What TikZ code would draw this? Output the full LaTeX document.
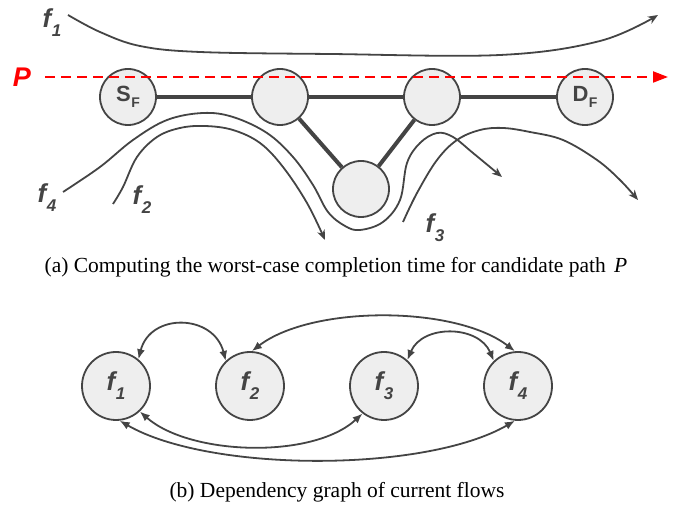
\documentclass[tikz,border=0pt]{standalone}
\usepackage{fontspec}
\setmainfont{Liberation Serif}
\setsansfont{Liberation Sans}
\usetikzlibrary{arrows.meta,backgrounds}
\definecolor{dg}{HTML}{444444}
\definecolor{lg}{HTML}{EEEEEE}
\newcommand{\flab}[1]{{\sffamily\bfseries\itshape\fontsize{26}{26}\selectfont f\kern0.5pt\raisebox{-9pt}{\fontsize{17}{17}\selectfont #1}}}
\newcommand{\nlab}[2]{{\sffamily\bfseries\fontsize{22}{22}\selectfont #1\kern0.5pt\raisebox{-6pt}{\fontsize{14}{14}\selectfont #2}}}
\begin{document}
\begin{tikzpicture}[x=1pt,y=1pt,
  router/.style={circle,draw=dg,fill=lg,line width=1.8pt,minimum size=56pt,inner sep=0pt,text=dg},
  flownode/.style={circle,draw=dg,fill=lg,line width=1.8pt,minimum size=68pt,inner sep=0pt,text=dg},
  link/.style={draw=dg,line width=4pt},
  flow/.style={draw=dg,line width=1.8pt,-{Stealth[length=10pt,width=8pt,inset=3pt]}},
  dep/.style={draw=dg,line width=1.8pt,{Latex[length=10pt,width=8pt]}-{Latex[length=10pt,width=8pt]}},
  lab/.style={text=dg,inner sep=0pt},
  captext/.style={inner sep=0pt,font=\fontsize{21.5}{21.5}\selectfont}]
\useasboundingbox (0,0) rectangle (691,508);
% ---------- (a) ----------
\coordinate (Pstart) at (45,431);
\coordinate (Pend) at (668,431);
\node[router] (S) at (128,411) {\nlab{S}{F}};
\node[router] (N2) at (280,411) {};
\node[router] (N3) at (432,411) {};
\node[router] (D) at (585,411) {\nlab{D}{F}};
\node[router] (B) at (361,319) {};
\begin{scope}[on background layer]
\draw[link] (S) -- (N2);
\draw[link] (N2) -- (N3);
\draw[link] (N3) -- (D);
\draw[link] (N2) -- (B);
\draw[link] (N3) -- (B);
\end{scope}
% P dashed path
\draw[red,line width=2pt,dash pattern=on 10pt off 6pt,-{Triangle[length=15pt,width=11pt]}] (Pstart) -- (Pend);
\node[inner sep=0pt,text=red] (Plab) at (22,431) {\sffamily\bfseries\itshape\fontsize{27}{27}\selectfont P};
% flows
\draw[flow] plot[smooth,tension=0.6] coordinates {(68,493) (100,476) (140,462) (200,456) (330,454) (500,453) (600,467) (658,493)};
\draw[flow] plot[smooth,tension=0.6] coordinates {(63,316) (100,341) (133,368) (167,388) (203,395) (233,391) (267,375) (293,351) (313,323) (328,296) (345,282) (360,278) (383,286) (400,308) (407,345) (420,365) (437,375) (453,371) (473,355) (502,331)};
\draw[flow] plot[smooth,tension=0.6] coordinates {(113,304) (123,321) (137,351) (157,371) (180,380) (205,382) (233,378) (260,365) (283,341) (307,305) (325,268)};
\draw[flow] plot[smooth,tension=0.6] coordinates {(403,286) (417,315) (437,348) (457,368) (480,378) (503,380) (530,376) (563,368) (597,348) (620,328) (638,308)};
\node[lab] (l1) at (52,485) {\flab{1}};
\node[lab] (l4) at (47,310) {\flab{4}};
\node[lab] (l2) at (142,308) {\flab{2}};
\node[lab] (l3) at (435,280) {\flab{3}};
\node[captext] (capa) at (336,241) {(a) Computing the worst-case completion time for candidate path\ \kern3pt\textit{P}};
% ---------- (b) ----------
\node[flownode] (F1) at (116,122) {\flab{1}};
\node[flownode] (F2) at (250,122) {\flab{2}};
\node[flownode] (F3) at (384,122) {\flab{3}};
\node[flownode] (F4) at (518,122) {\flab{4}};
\draw[dep] (F1.50) .. controls +(12,47) and +(-12,47) .. (F2.134);
\draw[dep] (F2.87) .. controls +(60,46) and +(-60,46) .. (F4.95);
\draw[dep] (F3.48) .. controls +(15,36) and +(-15,36) .. (F4.134);
\draw[dep] (F1.-47) .. controls +(50,-44) and +(-50,-46) .. (F3.-128);
\draw[dep] (F1.-84) .. controls +(90,-52) and +(-90,-52) .. (F4.-95);
\node[captext] (capb) at (337,16) {(b) Dependency graph of current flows};
\end{tikzpicture}
\end{document}
